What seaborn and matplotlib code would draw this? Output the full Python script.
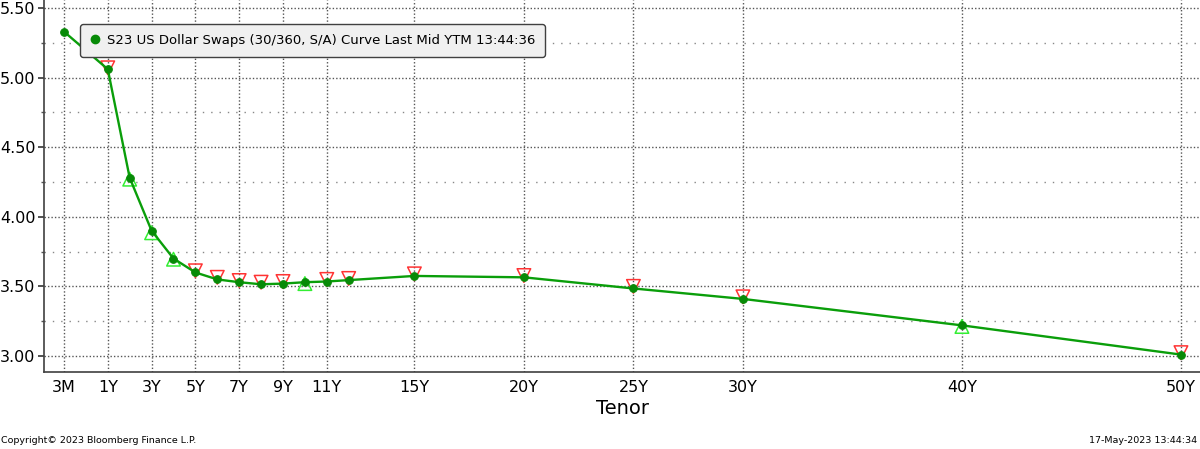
import matplotlib
matplotlib.use("Agg")
import matplotlib.pyplot as plt
from matplotlib.lines import Line2D
from matplotlib.ticker import MultipleLocator, FixedLocator, FormatStrFormatter
import numpy as np
import pandas as pd
import seaborn as sns

# curve data
tenor_years = [0.25, 1, 2, 3, 4, 5, 6, 7, 8, 9, 10, 11, 12, 15, 20, 25, 30, 40, 50]
mid_ytm = [5.33, 5.06, 4.28, 3.90, 3.70, 3.60, 3.55, 3.53, 3.515, 3.52, 3.53,
           3.535, 3.545, 3.575, 3.565, 3.485, 3.41, 3.22, 3.01]

# change markers (down = red, up = green)
down_years = [1, 5, 6, 7, 8, 9, 11, 12, 15, 20, 25, 30, 50]
down_vals = [5.07, 3.612, 3.565, 3.542, 3.53, 3.535, 3.55, 3.557, 3.59, 3.578, 3.50, 3.425, 3.024]
up_years = [2, 3, 4, 10, 40]
up_vals = [4.27, 3.885, 3.695, 3.52, 3.212]

tick_years = [0.25, 1, 3, 5, 7, 9, 11, 15, 20, 25, 30, 40, 50]
tick_labels = ["3M", "1Y", "3Y", "5Y", "7Y", "9Y", "11Y", "15Y", "20Y", "25Y", "30Y", "40Y", "50Y"]

legend_label = "S23 US Dollar Swaps (30/360, S/A) Curve Last Mid YTM 13:44:36"

df = pd.DataFrame({"tenor": tenor_years, "ytm": mid_ytm})
df_down = pd.DataFrame({"tenor": down_years, "ytm": down_vals})
df_up = pd.DataFrame({"tenor": up_years, "ytm": up_vals})


# bloomberg puts 3M two "years" left of 1Y
def fwd(x):
    x = np.asarray(x, dtype=float)
    return np.where(x < 1, -1 + (x - 0.25) * (2 / 0.75), x)


def inv(p):
    p = np.asarray(p, dtype=float)
    return np.where(p < 1, 0.25 + (p + 1) * 0.375, p)


sns.set_style("white")
plt.rcParams["font.family"] = ["DejaVu Sans"]
plt.rcParams["text.color"] = "black"

fig = plt.figure(figsize=(12, 4.49), dpi=100)
ax = fig.add_axes([44 / 1200, 1 - 372 / 449, 1 - 44 / 1200, 372 / 449])
ax.set_xscale("function", functions=(fwd, inv))

sns.lineplot(data=df, x="tenor", y="ytm", ax=ax, color="#0a9e0a", lw=1.7,
             marker="o", markersize=5.5, markerfacecolor="#078a07",
             markeredgecolor="#078a07", zorder=5)
sns.scatterplot(data=df_down, x="tenor", y="ytm", ax=ax, marker="v", s=95,
                facecolor="none", edgecolor="#ff3333", linewidth=1.1, zorder=4)
sns.scatterplot(data=df_up, x="tenor", y="ytm", ax=ax, marker="^", s=95,
                facecolor="none", edgecolor="#33ee33", linewidth=1.1, zorder=4)

ax.set_xlim(-0.092, 50.87)
ax.set_ylim(2.885, 5.557)

ax.xaxis.set_major_locator(FixedLocator(tick_years))
ax.set_xticklabels(tick_labels)
ax.xaxis.set_minor_locator(FixedLocator([]))
ax.yaxis.set_major_locator(MultipleLocator(0.5))
ax.yaxis.set_minor_locator(MultipleLocator(0.25))
ax.yaxis.set_major_formatter(FormatStrFormatter("%.2f"))

ax.grid(which="major", axis="both", color="#555555", lw=1.0, linestyle=(0, (1, 1.5)))
ax.grid(which="minor", axis="y", color="#888888", lw=1.0, linestyle=(0, (1, 5)))
ax.set_axisbelow(True)

for s in ["top", "right"]:
    ax.spines[s].set_visible(False)
for s in ["left", "bottom"]:
    ax.spines[s].set_color("#404040")
    ax.spines[s].set_linewidth(1.2)

ax.tick_params(axis="x", length=0, pad=6, labelsize=11.5, labelcolor="black")
ax.tick_params(axis="y", which="major", length=4, width=1.2, pad=2,
               labelsize=11.5, left=True, color="#333333", labelcolor="black")
ax.tick_params(axis="y", which="minor", length=2, width=1, left=True, color="#555555")

ax.set_xlabel("Tenor", fontsize=14, labelpad=3, color="black")
ax.set_ylabel("")

handle = Line2D([], [], marker="o", ls="none", color="#078a07", markersize=6)
leg = ax.legend([handle], [legend_label], loc="upper left",
                bbox_to_anchor=(80 / 1200, 1 - 24 / 449), bbox_transform=fig.transFigure,
                borderaxespad=0, fontsize=9.55, handlelength=0.8, handletextpad=0.45,
                frameon=True, fancybox=True, framealpha=1,
                facecolor="#f0f0f0", edgecolor="#404040", borderpad=0.75)
leg.get_frame().set_linewidth(1.0)
for t in leg.get_texts():
    t.set_color("black")

fig.text(0.001, 0.01, "Copyright\u00a9 2023 Bloomberg Finance L.P.", fontsize=6.8, ha="left", va="bottom")
fig.text(0.998, 0.01, "17-May-2023 13:44:34", fontsize=6.8, ha="right", va="bottom")

fig.savefig("out.png", dpi=100)
